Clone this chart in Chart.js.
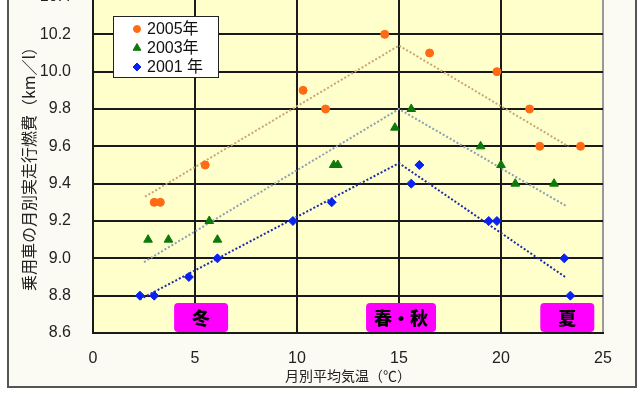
<!DOCTYPE html>
<html lang="ja">
<head>
<meta charset="utf-8">
<script src="https://cdn.jsdelivr.net/npm/chart.js@4.4.1/dist/chart.umd.min.js"></script>
<style>
  html, body { margin: 0; padding: 0; background: #fff; width: 640px; height: 400px; overflow: hidden; position: relative; }
  #frame { position: absolute; left: 7px; top: -10px; width: 630px; height: 398px; box-sizing: border-box; border: 2px solid #555; background: #fbfbf3; }
  #chart { position: absolute; left: 0; top: -10px; }
</style>
</head>
<body>
<div id="frame"></div>
<canvas id="chart" width="640" height="410"></canvas>
<script>
// 月別平均気温 (x) と 月別実走行燃費 (y)
const temp2005 = [3.0, 3.3, 5.5, 10.3, 11.4, 14.3, 16.5, 19.8, 21.4, 21.9, 23.9];
const fuel2005 = [9.3, 9.3, 9.5, 9.9, 9.8, 10.2, 10.1, 10.0, 9.8, 9.6, 9.6];

const temp2003 = [2.7, 3.7, 5.7, 6.1, 11.8, 12.0, 14.8, 15.6, 19.0, 20.0, 20.7, 22.6];
const fuel2003 = [9.1, 9.1, 9.2, 9.1, 9.5, 9.5, 9.7, 9.8, 9.6, 9.5, 9.4, 9.4];

const temp2001 = [2.3, 3.0, 4.7, 6.1, 9.8, 11.7, 15.6, 16.0, 19.4, 19.8, 23.1, 23.4];
const fuel2001 = [8.8, 8.8, 8.9, 9.0, 9.2, 9.3, 9.4, 9.5, 9.2, 9.2, 9.0, 8.8];

// 近似線 (左端, 山, 右端)
const trend2005X = [2.55, 15.0, 23.3];
const trend2005Y = [9.33, 10.14, 9.60];
const trend2003X = [2.5, 15.0, 23.2];
const trend2003Y = [8.98, 9.80, 9.28];
const trend2001X = [2.3, 15.0, 23.15];
const trend2001Y = [8.78, 9.51, 8.90];

// 季節ラベル
const seasonLabels = ["冬", "春・秋", "夏"];
const seasonTemps = [5.3, 15.1, 23.25];

const xTicks = [0, 5, 10, 15, 20, 25];
const yMin = 8.6, yMax = 10.4, yStep = 0.2;

function toPoints(xs, ys) {
  return xs.map((x, i) => ({ x: x, y: ys[i] }));
}

const ORANGE = "#ff6a13";
const GREEN = "#0b7a0b";
const BLUE = "#0a22ee";

const seriesStyle = [
  { label: "2005年", color: ORANGE, pointStyle: "circle", radius: 4 },
  { label: "2003年", color: GREEN, pointStyle: "triangle", radius: 5 },
  { label: "2001 年", color: BLUE, pointStyle: "rectRot", radius: 4.5 }
];

const plotBg = {
  id: "plotBg",
  beforeDraw(chart) {
    const { ctx, chartArea: a } = chart;
    ctx.save();
    ctx.fillStyle = "#ffffcc";
    ctx.fillRect(a.left, a.top, a.right - a.left, a.bottom - a.top);
    ctx.restore();
  }
};

const seasonBoxes = {
  id: "seasonBoxes",
  afterDatasetsDraw(chart) {
    const { ctx, chartArea: a } = chart;
    const xs = chart.scales.x;
    const widths = [54, 70, 54];
    ctx.save();
    seasonLabels.forEach((txt, i) => {
      const cx = xs.getPixelForValue(seasonTemps[i]);
      const w = widths[i], h = 29;
      const left = cx - w / 2, top = a.bottom - h - 1;
      ctx.beginPath();
      ctx.roundRect(left, top, w, h, 4);
      ctx.fillStyle = "#ff00ff";
      ctx.fill();
      ctx.fillStyle = "#000";
      ctx.font = "900 18px 'Noto Sans CJK JP'";
      ctx.textAlign = "center";
      ctx.textBaseline = "middle";
      ctx.fillText(txt, cx, top + h / 2 + 1);
    });
    ctx.restore();
  }
};

const boxLegend = {
  id: "boxLegend",
  afterDraw(chart) {
    const { ctx, chartArea: a } = chart;
    const left = a.left + 20, top = a.top + 19, w = 105, h = 61;
    ctx.save();
    ctx.fillStyle = "#fff";
    ctx.fillRect(left, top, w, h);
    ctx.strokeStyle = "#222";
    ctx.lineWidth = 1;
    ctx.strokeRect(left + 0.5, top + 0.5, w, h);
    ctx.font = "16px 'Liberation Sans', 'Noto Sans CJK JP'";
    ctx.textBaseline = "middle";
    ctx.textAlign = "left";
    seriesStyle.forEach((s, i) => {
      const y = top + 13 + i * 19;
      ctx.fillStyle = s.color;
      ctx.strokeStyle = s.color;
      Chart.helpers.drawPoint(ctx, { pointStyle: s.pointStyle, radius: s.radius - 0.5, rotation: 0, borderWidth: 1 }, left + 24, y);
      ctx.fillStyle = "#111";
      ctx.fillText(s.label, left + 34, y + 1);
    });
    ctx.restore();
  }
};

const pointSets = [
  toPoints(temp2005, fuel2005),
  toPoints(temp2003, fuel2003),
  toPoints(temp2001, fuel2001)
];

const trendSets = [
  { data: toPoints(trend2005X, trend2005Y), color: "#c9a574" },
  { data: toPoints(trend2003X, trend2003Y), color: "#8d9fb4" },
  { data: toPoints(trend2001X, trend2001Y), color: "#1c2aa8" }
];

const datasets = [];
trendSets.forEach(t => {
  datasets.push({
    data: t.data,
    showLine: true,
    borderColor: t.color,
    borderWidth: 2,
    borderDash: [2, 2],
    pointRadius: 0,
    fill: false,
    order: 2
  });
});
pointSets.forEach((pts, i) => {
  const s = seriesStyle[i];
  datasets.push({
    label: s.label,
    data: pts,
    showLine: false,
    pointStyle: s.pointStyle,
    pointRadius: s.radius,
    pointBackgroundColor: s.color,
    pointBorderColor: s.color,
    pointBorderWidth: 1,
    order: 1
  });
});

new Chart(document.getElementById("chart"), {
  type: "scatter",
  data: { datasets },
  options: {
    responsive: false,
    animation: false,
    events: [],
    layout: { padding: { top: 7, left: 15, right: 37, bottom: 12 } },
    plugins: {
      legend: { display: false },
      tooltip: { enabled: false }
    },
    scales: {
      x: {
        type: "linear",
        min: 0,
        max: 25,
        afterBuildTicks: s => { s.ticks = xTicks.map(v => ({ value: v })); },
        afterFit: s => { s.height = 55; s.paddingLeft = 0; s.paddingRight = 0; },
        ticks: {
          padding: 16,
          color: "#222",
          font: { family: "'Liberation Sans', Arial", size: 16 }
        },
        grid: {
          drawTicks: false,
          color: c => (c.tick && c.tick.value === 25 ? "#999" : "#1a1a1a"),
          lineWidth: 2
        },
        border: { display: true, color: "#1a1a1a", width: 2 },
        title: {
          display: true,
          text: "月別平均気温（℃）",
          color: "#222",
          font: { family: "'Noto Sans CJK JP'", size: 14 },
          padding: { top: 4, bottom: 4 }
        }
      },
      y: {
        min: yMin,
        max: yMax,
        afterFit: s => { s.width = 78; s.paddingTop = 0; s.paddingBottom = 0; },
        ticks: {
          stepSize: yStep,
          padding: 22,
          color: "#222",
          font: { family: "'Liberation Sans', Arial", size: 16 },
          callback: v => Number(v).toFixed(1)
        },
        grid: { drawTicks: false, color: "#1a1a1a", lineWidth: 2 },
        border: { display: true, color: "#1a1a1a", width: 2 },
        title: {
          display: true,
          text: "乗用車の月別実走行燃費（km／l）",
          color: "#222",
          font: { family: "'Noto Sans CJK JP'", size: 16 },
          padding: { top: 4, bottom: 4 }
        }
      }
    }
  },
  plugins: [plotBg, seasonBoxes, boxLegend]
});
</script>
</body>
</html>
